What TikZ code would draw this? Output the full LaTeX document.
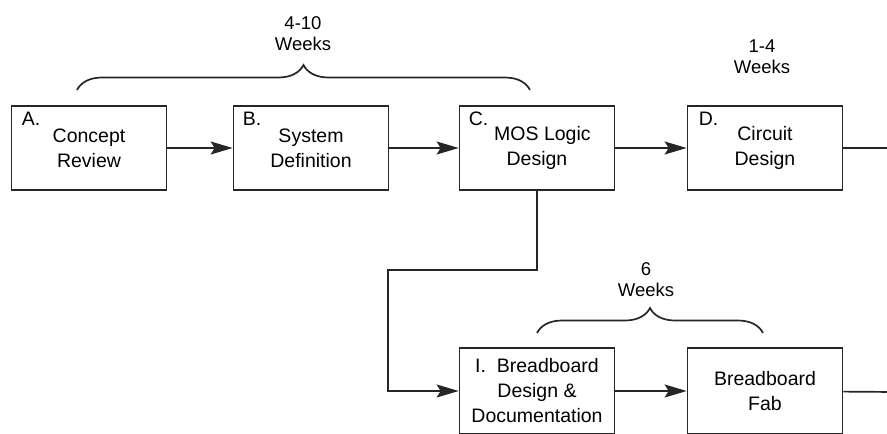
\documentclass[tikz,border=0pt]{standalone}
\usepackage{fontspec}
\setmainfont{Liberation Sans}
\usetikzlibrary{arrows.meta, decorations.pathreplacing, positioning}

\begin{document}
\begin{tikzpicture}[x=1pt, y=-1pt,
    task/.style={rectangle, draw=black!85, fill=white, line width=1.7pt, minimum width=155pt, minimum height=84pt, align=center, inner sep=0pt, font=\fontsize{19.5}{25}\selectfont},
    tag/.style={anchor=north west, inner sep=0pt, font=\fontsize{19.5}{25}\selectfont},
    flow/.style={draw=black!85, line width=1.7pt, -{Stealth[length=22pt, width=13pt, inset=4pt]}},
    wire/.style={draw=black!85, line width=1.7pt},
    brc/.style={draw=black!85, line width=1.7pt, decorate, decoration={brace, amplitude=25pt}},
    dur/.style={align=center, inner sep=0pt, font=\fontsize{18.5}{21}\selectfont}
]
    \useasboundingbox (0,0) rectangle (887,434);
    \clip (0,0) rectangle (887,434);

    % top row
    \node[task] (A) at (89,148)  {Concept\\Review};
    \node[task] (B) at (311,148) {System\\Definition};
    \node[task] (C) at (537,148) {\ \ MOS Logic\\Design};
    \node[task] (D) at (765,148) {Circuit\\Design};

    \node[tag] (tA) at ([shift={(11,7)}]A.north west) {A.};
    \node[tag] (tB) at ([shift={(10,7)}]B.north west) {B.};
    \node[tag] (tC) at ([shift={(10,7)}]C.north west) {C.};
    \node[tag] (tD) at ([shift={(12,7)}]D.north west) {D.};

    % lower row
    \node[task, minimum height=86pt] (I)   at (537,391) {I.\ \ Breadboard\\Design \&\\Documentation};
    \node[task, minimum height=86pt] (fab) at (765,391) {Breadboard\\Fab};

    \coordinate (outD)   at (895,148);
    \coordinate (outfab) at (895,392);
    \coordinate (bend)   at (388,270);

    \draw[flow] (A) -- (B);
    \draw[flow] (B) -- (C);
    \draw[flow] (C) -- (D);
    \draw[wire] (D) -- (outD);
    \draw[flow] (C.south) |- (bend) |- (I.west);
    \draw[flow] (I) -- (fab);
    \draw[wire] (fab) -- (outfab);

    % durations
    \draw[brc] (77,90) -- (530,90);
    \node[dur] (w1) at (303,34) {4-10\\Weeks};
    \node[dur] (w2) at (762,57) {1-4\\Weeks};
    \draw[brc] (537,333) -- (763,333);
    \node[dur] (w3) at (646,280) {6\\Weeks};
\end{tikzpicture}
\end{document}
